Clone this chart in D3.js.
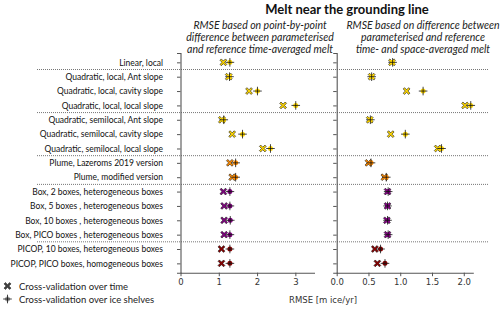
<!DOCTYPE html>
<html>
<head>
<meta charset="utf-8">
<script src="https://cdn.jsdelivr.net/npm/d3@7"></script>
<style>
  body { margin: 0; background: #fff; }
  svg { display: block; }
</style>
</head>
<body>
<svg id="chart"></svg>
<script>
// row labels, top to bottom
const labels = [
    'Linear, local',
    'Quadratic, local, Ant slope',
    'Quadratic, local, cavity slope',
    'Quadratic, local, local slope',
    'Quadratic, semilocal, Ant slope',
    'Quadratic, semilocal, cavity slope',
    'Quadratic, semilocal, local slope',
    'Plume, Lazeroms 2019 version',
    'Plume, modified version',
    'Box, 2 boxes, heterogeneous boxes',
    'Box, 5 boxes , heterogeneous boxes',
    'Box, 10 boxes , heterogeneous boxes',
    'Box, PICO boxes , heterogeneous boxes',
    'PICOP, 10 boxes, heterogeneous boxes',
    'PICOP, PICO boxes, homogeneous boxes'
];

// group of each row (sets colour)
const groups = ['quad', 'quad', 'quad', 'quad', 'quad', 'quad', 'quad',
    'plume', 'plume', 'box', 'box', 'box', 'box', 'picop', 'picop'];

// left panel: point-by-point RMSE
const pointTime   = [1.12, 1.26, 1.79, 2.68, 1.08, 1.35, 2.15, 1.29, 1.35, 1.12, 1.14, 1.14, 1.14, 1.07, 1.07];
const pointShelf  = [1.29, 1.28, 2.01, 3.01, 1.13, 1.62, 2.35, 1.44, 1.44, 1.29, 1.29, 1.30, 1.29, 1.29, 1.29];

// right panel: time- and space-averaged RMSE
const meanTime    = [0.87, 0.55, 1.10, 2.02, 0.52, 0.85, 1.59, 0.50, 0.75, 0.80, 0.80, 0.79, 0.80, 0.60, 0.64];
const meanShelf   = [0.88, 0.55, 1.36, 2.11, 0.53, 1.08, 1.65, 0.54, 0.78, 0.81, 0.80, 0.80, 0.81, 0.69, 0.76];

// separators sit after these row indices
const breaks = [0, 3, 6, 8, 12];

const leftTicks = [0, 1, 2, 3];
const rightTicks = [0, 0.5, 1.0, 1.5, 2.0];

const colors = {quad: '#ffd700', plume: '#ff8c00', box: '#800080', picop: '#8b0000'};

const W = 500, H = 312;
const svg = d3.select('#chart').attr('width', W).attr('height', H);

const labelFont = 'Lato, "Open Sans", sans-serif';
const numFont = '"DejaVu Sans", sans-serif';

// vertical scale shared by both panels
let y = d3.scalePoint()
    .domain(labels)
    .range([53, 272.7])
    .padding(0.65);

let xL = d3.scaleLinear().domain([0, 3.5]).range([180.5, 314.5]);
let xR = d3.scaleLinear().domain([0, 2.15]).range([336.7, 473.3]);

// dotted separators
breaks.forEach(function(i) {
    let yy = (y(labels[i]) + y(labels[i + 1])) / 2;
    svg.append('line')
        .attr('x1', 37).attr('x2', 488)
        .attr('y1', yy).attr('y2', yy)
        .attr('stroke', '#666')
        .attr('stroke-width', 0.9)
        .attr('stroke-dasharray', '1,1');
});

// left y axis with the labels
let axL = svg.append('g')
    .attr('transform', 'translate(' + xL(0) + ',0)')
    .call(d3.axisLeft(y).tickSize(3.5).tickPadding(14));
axL.selectAll('text')
    .attr('font-family', labelFont)
    .attr('font-size', '8.5px')
    .attr('fill', '#111');

// right y axis, ticks only
let axR = svg.append('g')
    .attr('transform', 'translate(' + xR(0) + ',0)')
    .call(d3.axisLeft(y).tickSize(3.5).tickFormat(''));

// bottom axes
let bL = svg.append('g')
    .attr('transform', 'translate(0,' + y.range()[1] + ')')
    .call(d3.axisBottom(xL).tickValues(leftTicks).tickFormat(d3.format('d')).tickSize(3.5).tickSizeOuter(0));
let bR = svg.append('g')
    .attr('transform', 'translate(0,' + y.range()[1] + ')')
    .call(d3.axisBottom(xR).tickValues(rightTicks).tickFormat(d3.format('.1f')).tickSize(3.5).tickSizeOuter(0));

[bL, bR].forEach(function(g) {
    g.selectAll('text')
        .attr('font-family', numFont)
        .attr('font-size', '8.5px')
        .attr('fill', '#333');
});

[axL, axR, bL, bR].forEach(function(g) {
    g.select('.domain').attr('stroke', '#555').attr('stroke-width', 1.1);
    g.selectAll('.tick line').attr('stroke', '#555');
});

// markers
const xPath = 'M-3.4,-2.1 L-2.1,-3.4 L0,-1.3 L2.1,-3.4 L3.4,-2.1 L1.3,0 L3.4,2.1 L2.1,3.4 L0,1.3 L-2.1,3.4 L-3.4,2.1 L-1.3,0 Z';

function drawX(g, cx, cy, fill) {
    g.append('path')
        .attr('d', xPath)
        .attr('transform', 'translate(' + cx + ',' + cy + ')')
        .attr('fill', fill)
        .attr('stroke', '#111')
        .attr('stroke-width', 0.6);
}

function drawPlus(g, cx, cy, fill) {
    g.append('circle')
        .attr('cx', cx).attr('cy', cy).attr('r', 2.5)
        .attr('fill', fill);
    g.append('path')
        .attr('d', 'M' + (cx - 4.3) + ',' + cy + 'H' + (cx + 4.3) + 'M' + cx + ',' + (cy - 4.3) + 'V' + (cy + 4.3))
        .attr('stroke', '#111')
        .attr('stroke-width', 0.8);
}

let marks = svg.append('g');
labels.forEach(function(lab, i) {
    let c = colors[groups[i]];
    let cy = y(lab);
    drawX(marks, xL(pointTime[i]), cy, c);
    drawPlus(marks, xL(pointShelf[i]), cy, c);
    drawX(marks, xR(meanTime[i]), cy, c);
    drawPlus(marks, xR(meanShelf[i]), cy, c);
});

// titles
svg.append('text')
    .attr('x', 347).attr('y', 14)
    .attr('text-anchor', 'middle')
    .attr('font-family', labelFont)
    .attr('font-weight', 'bold')
    .attr('font-size', '13px')
    .attr('fill', '#111')
    .text('Melt near the grounding line');

const subL = ['RMSE based on point-by-point', 'difference between parameterised', 'and reference time-averaged melt'];
const subR = ['RMSE based on difference between', 'parameterised and reference', 'time- and space-averaged melt'];

function subtitle(lines, cx) {
    lines.forEach(function(t, k) {
        svg.append('text')
            .attr('x', cx).attr('y', 28.5 + k * 12)
            .attr('text-anchor', 'middle')
            .attr('font-family', labelFont)
            .attr('font-style', 'italic')
            .attr('font-size', '10.5px')
            .attr('fill', '#222')
            .text(t);
    });
}
subtitle(subL, 260);
subtitle(subR, 423);

// x axis label
svg.append('text')
    .attr('x', 323).attr('y', 303)
    .attr('text-anchor', 'middle')
    .attr('font-family', numFont)
    .attr('font-size', '8.5px')
    .attr('fill', '#333')
    .text('RMSE [m ice/yr]');

// legend
drawX(svg, 7.5, 286, '#444');
drawPlus(svg, 7.5, 299, '#999');
svg.append('text').attr('x', 19).attr('y', 289.5)
    .attr('font-family', labelFont).attr('font-size', '9.5px').attr('fill', '#222')
    .text('Cross-validation over time');
svg.append('text').attr('x', 19).attr('y', 302.5)
    .attr('font-family', labelFont).attr('font-size', '9.5px').attr('fill', '#222')
    .text('Cross-validation over ice shelves');
</script>
</body>
</html>
